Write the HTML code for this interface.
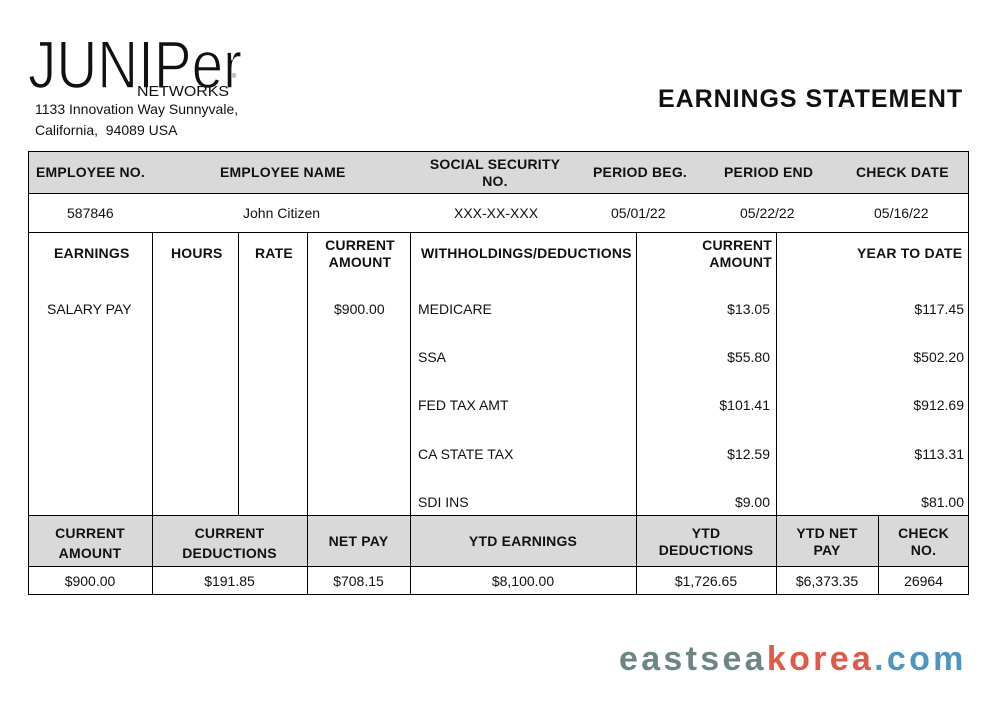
<!DOCTYPE html>
<html><head><meta charset="utf-8"><style>
body{margin:0;width:1000px;height:720px;background:#fff;position:relative;font-family:"Liberation Sans",Arial,sans-serif;color:#111;overflow:hidden}
.a{position:absolute;white-space:nowrap}
.h{font-weight:bold;font-size:14px;text-align:center;letter-spacing:0.2px}
.c{text-align:center;font-size:14px}
.r{text-align:right;font-size:14px}
.l{font-size:14px}
.line{position:absolute;background:#000}
</style></head><body>
<svg class="a" style="left:24px;top:28px" width="230" height="75">
<text x="4" y="60" font-family="Liberation Sans, sans-serif" font-size="68" textLength="214" lengthAdjust="spacingAndGlyphs" font-weight="normal" fill="#111" stroke="#fff" stroke-width="1.5">JUNIPer</text>
<text x="113" y="68" font-family="Liberation Sans, sans-serif" font-size="15" textLength="92" lengthAdjust="spacingAndGlyphs" fill="#111">NETWORKS</text>
<text x="208" y="50" font-size="6" fill="#555">®</text>
</svg>
<div class="a l" style="left:35px;top:101px">1133 Innovation Way Sunnyvale,</div>
<div class="a l" style="left:35px;top:122px">California,&nbsp; 94089 USA</div>
<div class="a" style="left:658px;top:85px;font-size:25px;font-weight:bold;letter-spacing:0.95px">EARNINGS STATEMENT</div>

<div class="a" style="left:28px;top:151px;width:941px;height:42px;background:#d9d9d9"></div>
<div class="a" style="left:28px;top:232px;width:941px;height:283px"></div>
<div class="a" style="left:28px;top:515px;width:941px;height:51px;background:#d9d9d9"></div>
<div class="a" style="left:28px;top:151px;width:939px;height:442px;border:1px solid #000"></div>
<div class="line" style="left:28px;top:193px;width:941px;height:1px"></div>
<div class="line" style="left:28px;top:232px;width:941px;height:1px"></div>
<div class="line" style="left:28px;top:515px;width:941px;height:1px"></div>
<div class="line" style="left:28px;top:566px;width:941px;height:1px"></div>
<div class="line" style="left:152px;top:232px;width:1px;height:363px"></div>
<div class="line" style="left:238px;top:232px;width:1px;height:283px"></div>
<div class="line" style="left:307px;top:232px;width:1px;height:363px"></div>
<div class="line" style="left:410px;top:232px;width:1px;height:363px"></div>
<div class="line" style="left:636px;top:232px;width:1px;height:363px"></div>
<div class="line" style="left:776px;top:232px;width:1px;height:363px"></div>
<div class="line" style="left:878px;top:515px;width:1px;height:80px"></div>

<div class="a h" style="left:36px;top:164px">EMPLOYEE NO.</div>
<div class="a h" style="left:220px;top:164px">EMPLOYEE NAME</div>
<div class="a h" style="left:425px;top:156px;width:140px;line-height:17px">SOCIAL SECURITY<br>NO.</div>
<div class="a h" style="left:593px;top:164px">PERIOD BEG.</div>
<div class="a h" style="left:724px;top:164px">PERIOD END</div>
<div class="a h" style="left:856px;top:164px">CHECK DATE</div>

<div class="a l" style="left:67px;top:205px">587846</div>
<div class="a l" style="left:243px;top:205px">John Citizen</div>
<div class="a l" style="left:454px;top:205px">XXX-XX-XXX</div>
<div class="a l" style="left:611px;top:205px">05/01/22</div>
<div class="a l" style="left:740px;top:205px">05/22/22</div>
<div class="a l" style="left:874px;top:205px">05/16/22</div>

<div class="a h" style="left:54px;top:245px">EARNINGS</div>
<div class="a h" style="left:171px;top:245px">HOURS</div>
<div class="a h" style="left:255px;top:245px">RATE</div>
<div class="a h" style="left:310px;top:237px;width:100px;line-height:17px">CURRENT<br>AMOUNT</div>
<div class="a h" style="left:421px;top:245px">WITHHOLDINGS/DEDUCTIONS</div>
<div class="a h" style="left:700px;top:237px;width:72px;text-align:right;line-height:17px">CURRENT<br>AMOUNT</div>
<div class="a h" style="left:857px;top:245px">YEAR TO DATE</div>

<div class="a l" style="left:47px;top:301px">SALARY PAY</div>
<div class="a l" style="left:334px;top:301px">$900.00</div>
<div class="a l" style="left:418px;top:301px">MEDICARE</div>
<div class="a l" style="left:418px;top:349px">SSA</div>
<div class="a l" style="left:418px;top:397px">FED TAX AMT</div>
<div class="a l" style="left:418px;top:446px">CA STATE TAX</div>
<div class="a l" style="left:418px;top:494px">SDI INS</div>
<div class="a r" style="left:670px;top:301px;width:100px">$13.05</div>
<div class="a r" style="left:670px;top:349px;width:100px">$55.80</div>
<div class="a r" style="left:670px;top:397px;width:100px">$101.41</div>
<div class="a r" style="left:670px;top:446px;width:100px">$12.59</div>
<div class="a r" style="left:670px;top:494px;width:100px">$9.00</div>
<div class="a r" style="left:864px;top:301px;width:100px">$117.45</div>
<div class="a r" style="left:864px;top:349px;width:100px">$502.20</div>
<div class="a r" style="left:864px;top:397px;width:100px">$912.69</div>
<div class="a r" style="left:864px;top:446px;width:100px">$113.31</div>
<div class="a r" style="left:864px;top:494px;width:100px">$81.00</div>

<div class="a h" style="left:28px;top:523px;width:124px;line-height:20px">CURRENT<br>AMOUNT</div>
<div class="a h" style="left:152px;top:523px;width:155px;line-height:20px">CURRENT<br>DEDUCTIONS</div>
<div class="a h" style="left:307px;top:533px;width:103px">NET PAY</div>
<div class="a h" style="left:410px;top:533px;width:226px">YTD EARNINGS</div>
<div class="a h" style="left:636px;top:525px;width:140px;line-height:17px">YTD<br>DEDUCTIONS</div>
<div class="a h" style="left:776px;top:525px;width:102px;line-height:17px">YTD NET<br>PAY</div>
<div class="a h" style="left:878px;top:525px;width:91px;line-height:17px">CHECK<br>NO.</div>

<div class="a c" style="left:28px;top:573px;width:124px">$900.00</div>
<div class="a c" style="left:152px;top:573px;width:155px">$191.85</div>
<div class="a c" style="left:307px;top:573px;width:103px">$708.15</div>
<div class="a c" style="left:410px;top:573px;width:226px">$8,100.00</div>
<div class="a c" style="left:636px;top:573px;width:140px">$1,726.65</div>
<div class="a c" style="left:776px;top:573px;width:102px">$6,373.35</div>
<div class="a c" style="left:878px;top:573px;width:91px">26964</div>

<div class="a" style="left:619px;top:640px;font-size:34px;font-weight:bold;letter-spacing:3.3px"><span style="color:#6e8585">eastsea</span><span style="color:#e05a48">korea</span><span style="color:#4e95c0">.com</span></div>
</body></html>
